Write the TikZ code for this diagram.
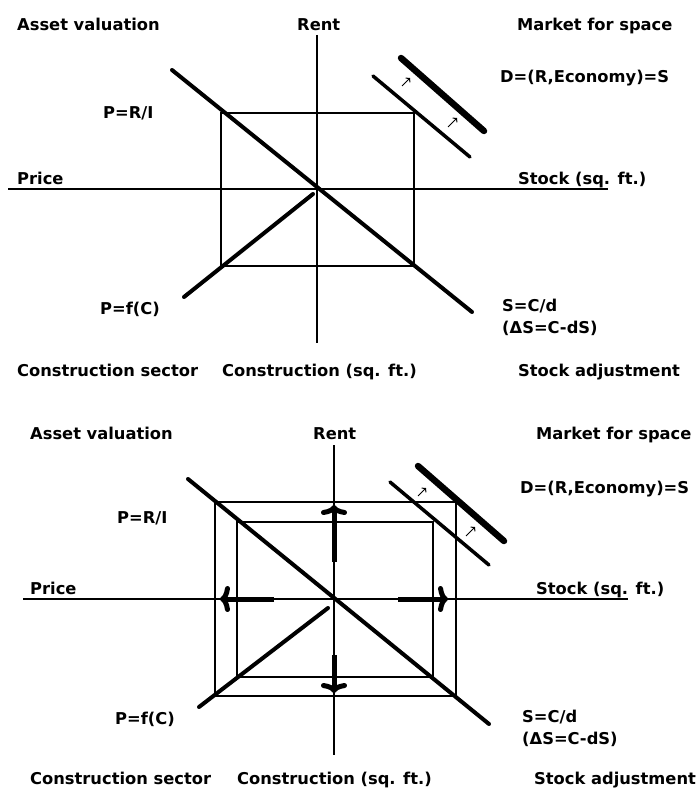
\documentclass[tikz,border=0pt]{standalone}
\usepackage{fontspec}
\setmainfont{DejaVu Sans}
\usetikzlibrary{arrows.meta}
\begin{document}
\begin{tikzpicture}[x=1pt,y=-1pt,
  lbl/.style={anchor=base west,inner sep=0pt,font=\fontsize{16.3}{18}\selectfont\bfseries},
  axisline/.style={line width=1.5pt},
  framebox/.style={line width=1.3pt},
  curveline/.style={line width=4pt,line cap=round},
  dthin/.style={line width=3.5pt,line cap=round},
  dthick/.style={line width=6.5pt,line cap=round},
  shiftarrow/.style={line width=1pt,-{Straight Barb[length=2.5pt,width=6pt]}},
  bigarrow/.style={line width=5pt,-{To[length=10pt,width=26pt]}}
]
\fill[white] (0,0) rectangle (697,789);
\useasboundingbox (0,0) rectangle (697,789);

% ===== Top panel =====
\coordinate (tVt) at (317,35);  \coordinate (tVb) at (317,343);
\coordinate (tHl) at (8,189);   \coordinate (tHr) at (608,189);
\coordinate (tR1) at (221,113); \coordinate (tR2) at (414,266);
\coordinate (tA1) at (172,70);  \coordinate (tA2) at (472,312);
\coordinate (tC1) at (184,297); \coordinate (tC2) at (313,194);
\coordinate (tD1) at (373,76);  \coordinate (tD2) at (470,157);
\coordinate (tE1) at (401,58);  \coordinate (tE2) at (484,131);
\coordinate (tS1a) at (402,86); \coordinate (tS1b) at (410,78);
\coordinate (tS2a) at (448,127);\coordinate (tS2b) at (457,118);

\draw[axisline] (tVt) -- (tVb);
\draw[axisline] (tHl) -- (tHr);
\draw[framebox] (tR1) rectangle (tR2);
\draw[curveline] (tA1) -- (tA2);
\draw[curveline] (tC1) -- (tC2);
\draw[dthin] (tD1) -- (tD2);
\draw[dthick] (tE1) -- (tE2);
\draw[shiftarrow] (tS1a) -- (tS1b);
\draw[shiftarrow] (tS2a) -- (tS2b);

\node[lbl] (tAV) at (17,31) {Asset valuation};
\node[lbl] (tRent) at (297,31) {Rent};
\node[lbl] (tMS) at (517,31) {Market for space};
\node[lbl] (tD) at (500,83) {D=(R,Economy)=S};
\node[lbl] (tPRI) at (103,118) {P=R/I};
\node[lbl] (tPrice) at (17,184) {Price};
\node[lbl] (tStock) at (518,184) {Stock (sq. ft.)};
\node[lbl] (tPfC) at (100,314) {P=f(C)};
\node[lbl] (tSCd) at (502,311) {S=C/d};
\node[lbl] (tDS) at (502,333) {(ΔS=C-dS)};
\node[lbl] (tCS) at (17,376) {Construction sector};
\node[lbl] (tCq) at (222,376) {Construction (sq. ft.)};
\node[lbl] (tSA) at (518,376) {Stock adjustment};

% ===== Bottom panel =====
\coordinate (bVt) at (334,445);  \coordinate (bVb) at (334,755);
\coordinate (bHl) at (23,599);   \coordinate (bHr) at (628,599);
\coordinate (bO1) at (215,502);  \coordinate (bO2) at (456,696);
\coordinate (bI1) at (237,522);  \coordinate (bI2) at (433,677);
\coordinate (bA1) at (188,479);  \coordinate (bA2) at (489,724);
\coordinate (bC1) at (199,707);  \coordinate (bC2) at (328,608);
\coordinate (bD1) at (390,482);  \coordinate (bD2) at (489,565);
\coordinate (bE1) at (418,466);  \coordinate (bE2) at (504,541);
\coordinate (bS1a) at (418,496); \coordinate (bS1b) at (426,488);
\coordinate (bS2a) at (466,536); \coordinate (bS2b) at (475,527);
\coordinate (bUpa) at (334,562); \coordinate (bUpb) at (334,505);
\coordinate (bLa) at (274,599);  \coordinate (bLb) at (220,599);
\coordinate (bRa) at (398,599);  \coordinate (bRb) at (448,599);
\coordinate (bDna) at (334,655); \coordinate (bDnb) at (334,693);

\draw[axisline] (bVt) -- (bVb);
\draw[axisline] (bHl) -- (bHr);
\draw[framebox] (bO1) rectangle (bO2);
\draw[framebox] (bI1) rectangle (bI2);
\draw[curveline] (bA1) -- (bA2);
\draw[curveline] (bC1) -- (bC2);
\draw[dthin] (bD1) -- (bD2);
\draw[dthick] (bE1) -- (bE2);
\draw[shiftarrow] (bS1a) -- (bS1b);
\draw[shiftarrow] (bS2a) -- (bS2b);
\draw[bigarrow] (bUpa) -- (bUpb);
\draw[bigarrow] (bLa) -- (bLb);
\draw[bigarrow] (bRa) -- (bRb);
\draw[bigarrow] (bDna) -- (bDnb);

\node[lbl] (bAV) at (30,439) {Asset valuation};
\node[lbl] (bRent) at (313,439) {Rent};
\node[lbl] (bMS) at (536,439) {Market for space};
\node[lbl] (bD) at (520,493) {D=(R,Economy)=S};
\node[lbl] (bPRI) at (117,523) {P=R/I};
\node[lbl] (bPrice) at (30,594) {Price};
\node[lbl] (bStock) at (536,594) {Stock (sq. ft.)};
\node[lbl] (bPfC) at (115,724) {P=f(C)};
\node[lbl] (bSCd) at (522,722) {S=C/d};
\node[lbl] (bDS) at (522,744) {(ΔS=C-dS)};
\node[lbl] (bCS) at (30,784) {Construction sector};
\node[lbl] (bCq) at (237,784) {Construction (sq. ft.)};
\node[lbl] (bSA) at (534,784) {Stock adjustment};
\end{tikzpicture}
\end{document}
